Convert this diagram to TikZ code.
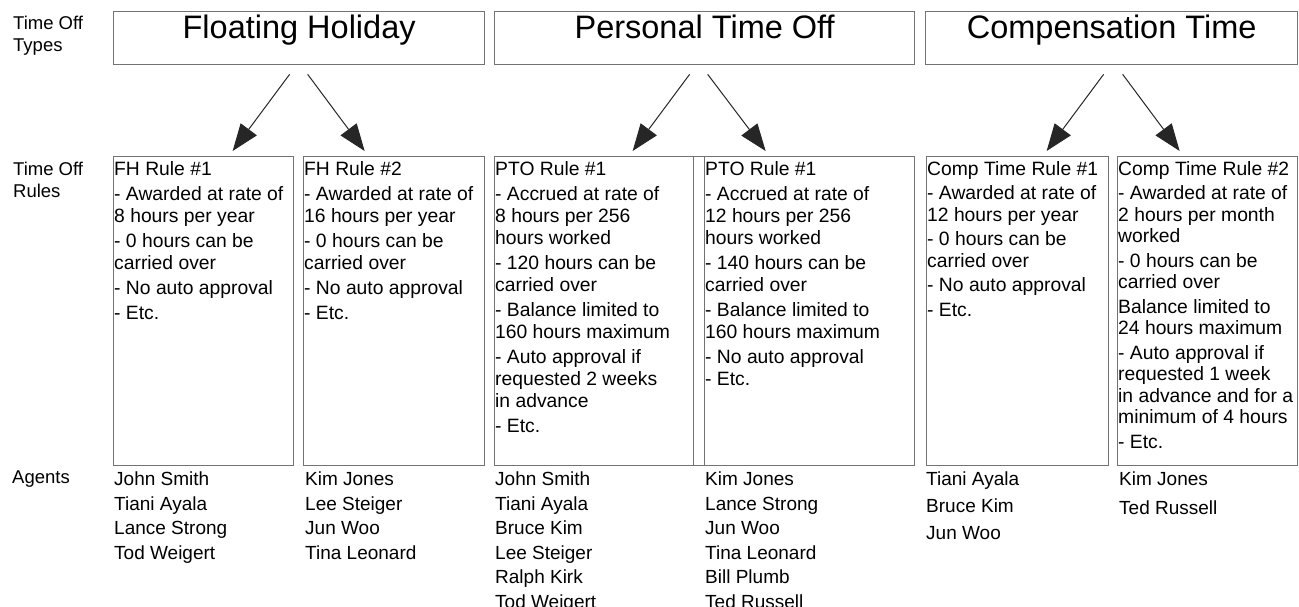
\documentclass[tikz,border=0pt]{standalone}
\usepackage{fontspec}
\setmainfont{Liberation Sans}
\usepackage{xcolor}
\usepackage{tikz}
\usetikzlibrary{arrows.meta}

\definecolor{boxgray}{gray}{0.45}
\newcommand{\firstrow}{\rule{0pt}{19pt}}

\begin{document}
\begin{tikzpicture}[x=1pt, y=-1pt,
  typebox/.style={draw=boxgray, line width=1.3pt, inner sep=0pt, minimum height=53pt, anchor=north west},
  rulebox/.style={draw=boxgray, line width=1.3pt, inner sep=0pt, minimum height=309pt, anchor=north west},
  typetext/.style={anchor=base, inner sep=0pt, font=\fontsize{32.5}{36}\selectfont},
  bodytext/.style={anchor=north west, inner sep=0pt, align=left, font=\fontsize{19.3}{22}\selectfont},
  tighttext/.style={bodytext, font=\fontsize{19.3}{21.5}\selectfont},
  nametext/.style={anchor=north west, inner sep=0pt, align=left, font=\fontsize{19}{24.5}\selectfont},
  sidetext/.style={anchor=north west, inner sep=0pt, align=left, font=\fontsize{18.5}{22.5}\selectfont},
  arr/.style={-{Triangle[length=27pt,width=20pt]}, line width=1pt, black!85}]
  \useasboundingbox (0,0) rectangle (1299,607);
  % Draw row labels on the left
  \node[sidetext] (types) at (13,10) {\firstrow Time Off\\Types};
  \node[sidetext] (rules) at (13,156) {\firstrow Time Off\\Rules};
  \node[sidetext] (agents) at (12,464) {\firstrow Agents};
  % Draw time off type boxes
  \foreach \id/\x/\w/\txt in {fh/113/371/Floating Holiday, pto/494/420/Personal Time Off, comp/925/372/Compensation Time} {
    \node[typebox, minimum width=\w pt] (\id) at (\x,11) {};
    \node[typetext] (\id title) at ([yshift=-28pt]\id.north) {\txt};
  }
  % Draw rule boxes (the two PTO boxes overlap a little)
  \foreach \id/\x/\w in {fhA/113/180, fhB/303/181, ptoA/494/210, ptoB/693/221, compA/926/182, compB/1117/180} {
    \node[rulebox, minimum width=\w pt] (\id) at (\x,156) {};
  }
  % Draw arrows from types to rules
  \foreach \src/\dst/\sx/\dx in {fh/fhA/-9.5/29, fh/fhB/8.5/-29.5, pto/ptoA/-15/33, pto/ptoB/3/-38.5, comp/compA/-8/29, comp/compB/11/-28} {
    \draw[arr] ([xshift=\sx pt,yshift=-9pt]\src.south) -- ([xshift=\dx pt,yshift=5pt]\dst.north);
  }
  % Rule texts
  \node[bodytext] (fhAtext) at ([xshift=1pt]fhA.north west) {\firstrow FH Rule \#1\\[3pt]
    - Awarded at rate of\\8 hours per year\\[3pt]
    - 0 hours can be\\carried over\\[3pt]
    - No auto approval\\[3pt]
    - Etc.};
  \node[bodytext] (fhBtext) at ([xshift=1pt]fhB.north west) {\firstrow FH Rule \#2\\[3pt]
    - Awarded at rate of\\16 hours per year\\[3pt]
    - 0 hours can be\\carried over\\[3pt]
    - No auto approval\\[3pt]
    - Etc.};
  \node[bodytext] (ptoAtext) at ([xshift=1pt]ptoA.north west) {\firstrow PTO Rule \#1\\[3pt]
    - Accrued at rate of\\8 hours per 256\\hours worked\\[3pt]
    - 120 hours can be\\carried over\\[3pt]
    - Balance limited to\\160 hours maximum\\[3pt]
    - Auto approval if\\requested 2 weeks\\in advance\\[3pt]
    - Etc.};
  \node[bodytext] (ptoBtext) at ([xshift=12pt]ptoB.north west) {\firstrow PTO Rule \#1\\[3pt]
    - Accrued at rate of\\12 hours per 256\\hours worked\\[3pt]
    - 140 hours can be\\carried over\\[3pt]
    - Balance limited to\\160 hours maximum\\[3pt]
    - No auto approval\\
    - Etc.};
  \node[tighttext] (compAtext) at ([xshift=1pt]compA.north west) {\firstrow Comp Time Rule \#1\\[3pt]
    - Awarded at rate of\\12 hours per year\\[3pt]
    - 0 hours can be\\carried over\\[3pt]
    - No auto approval\\[3pt]
    - Etc.};
  \node[tighttext] (compBtext) at ([xshift=1pt]compB.north west) {\firstrow Comp Time Rule \#2\\[3pt]
    - Awarded at rate of\\2 hours per month\\worked\\[3pt]
    - 0 hours can be\\carried over\\[3pt]
    Balance limited to\\24 hours maximum\\[3pt]
    - Auto approval if\\requested 1 week\\in advance and for a\\minimum of 4 hours\\[3pt]
    - Etc.};
  % Agents under each rule
  \node[nametext] (fhAnames) at ([xshift=1pt]fhA.south west) {\firstrow John Smith\\Tiani Ayala\\Lance Strong\\Tod Weigert};
  \node[nametext] (fhBnames) at ([xshift=2pt]fhB.south west) {\firstrow Kim Jones\\Lee Steiger\\Jun Woo\\Tina Leonard};
  \node[nametext] (ptoAnames) at ([xshift=1pt]ptoA.south west) {\firstrow John Smith\\Tiani Ayala\\Bruce Kim\\Lee Steiger\\Ralph Kirk\\Tod Weigert};
  \node[nametext] (ptoBnames) at ([xshift=12pt]ptoB.south west) {\firstrow Kim Jones\\Lance Strong\\Jun Woo\\Tina Leonard\\Bill Plumb\\Ted Russell};
  \node[nametext, font=\fontsize{19}{27}\selectfont] (compAnames) at ([xshift=0pt]compA.south west) {\firstrow Tiani Ayala\\Bruce Kim\\Jun Woo};
  \node[nametext, font=\fontsize{19}{29}\selectfont] (compBnames) at ([xshift=2pt]compB.south west) {\firstrow Kim Jones\\Ted Russell};
\end{tikzpicture}
\end{document}
